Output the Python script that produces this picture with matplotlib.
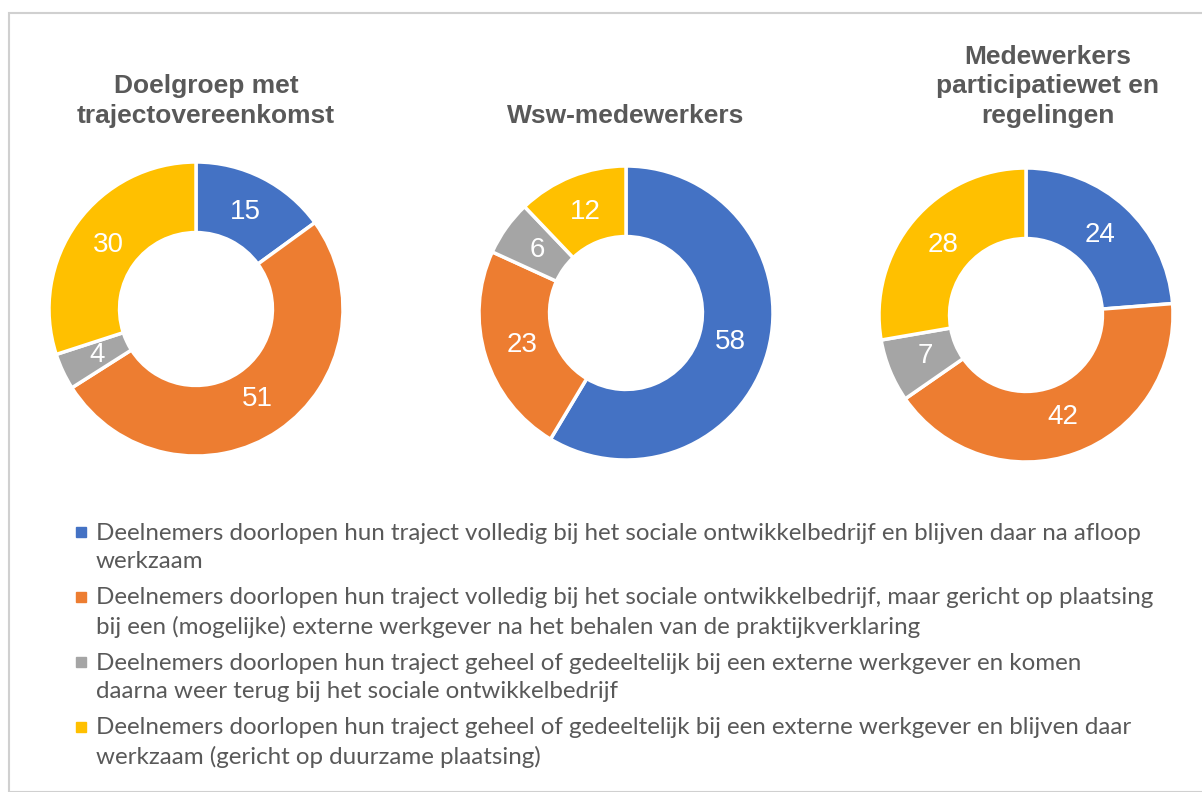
import matplotlib
matplotlib.use("Agg")
import matplotlib.pyplot as plt
from matplotlib.patches import Rectangle
from matplotlib.lines import Line2D

# data
titles = ["Doelgroep met\ntrajectovereenkomst",
          "Wsw-medewerkers",
          "Medewerkers\nparticipatiewet en\nregelingen"]
doelgroep = [15, 51, 4, 30]
wsw = [58, 23, 6, 12]
participatie = [24, 42, 7, 28]
categories = [
    "Deelnemers doorlopen hun traject volledig bij het sociale ontwikkelbedrijf en blijven daar na afloop\nwerkzaam",
    "Deelnemers doorlopen hun traject volledig bij het sociale ontwikkelbedrijf, maar gericht op plaatsing\nbij een (mogelijke) externe werkgever na het behalen van de praktijkverklaring",
    "Deelnemers doorlopen hun traject geheel of gedeeltelijk bij een externe werkgever en komen\ndaarna weer terug bij het sociale ontwikkelbedrijf",
    "Deelnemers doorlopen hun traject geheel of gedeeltelijk bij een externe werkgever en blijven daar\nwerkzaam (gericht op duurzame plaatsing)",
]
colors = ["#4472C4", "#ED7D31", "#A5A5A5", "#FFC000"]

W, H = 1202, 792
fig = plt.figure(figsize=(W / 100, H / 100), dpi=100)

# border
fig.patches.append(Rectangle((9 / W, 0), 1.2, 1 - 13 / H, transform=fig.transFigure,
                             fill=False, edgecolor="#D0D0D0", linewidth=1.5))

centers = [(196, 309), (626, 313), (1026, 315)]
radius = 147
title_x = [206, 626, 1048]
series = [doelgroep, wsw, participatie]

for (cx, cy), vals, title, tx in zip(centers, series, titles, title_x):
    ax = fig.add_axes([(cx - radius) / W, 1 - (cy + radius) / H, 2 * radius / W, 2 * radius / H])
    wedges, texts = ax.pie(vals, colors=colors, startangle=90, counterclock=False,
                           radius=1, labels=[str(v) for v in vals], labeldistance=0.74,
                           wedgeprops=dict(width=0.48, edgecolor="white", linewidth=2.5),
                           textprops=dict(color="white", fontsize=20, family="Liberation Sans"))
    for t in texts:
        t.set_ha("center")
        t.set_va("center")
    ax.set_xlim(-1, 1)
    ax.set_ylim(-1, 1)
    fig.text(tx / W, 1 - 123 / H, title, ha="center", va="baseline", fontsize=19,
             fontweight="bold", color="#595959", family="Liberation Sans", linespacing=1.3)

# legend, drawn by hand so the line spacing matches
leg_top = 533      # centre of first legend line, px from top
item_step = 65
line_step = 29
for i, (lab, c) in enumerate(zip(categories, colors)):
    y0 = leg_top + i * item_step
    fig.add_artist(Line2D([80.5 / W], [1 - (y0 - 1) / H], marker="s", markersize=6.5,
                          color=c, linestyle="", transform=fig.transFigure))
    for k, line in enumerate(lab.split("\n")):
        fig.text(96 / W, 1 - (y0 + k * line_step) / H, line, ha="left", va="center",
                 family="Lato", fontsize=17.4, color="#595959")

fig.savefig("out.png", dpi=100)
